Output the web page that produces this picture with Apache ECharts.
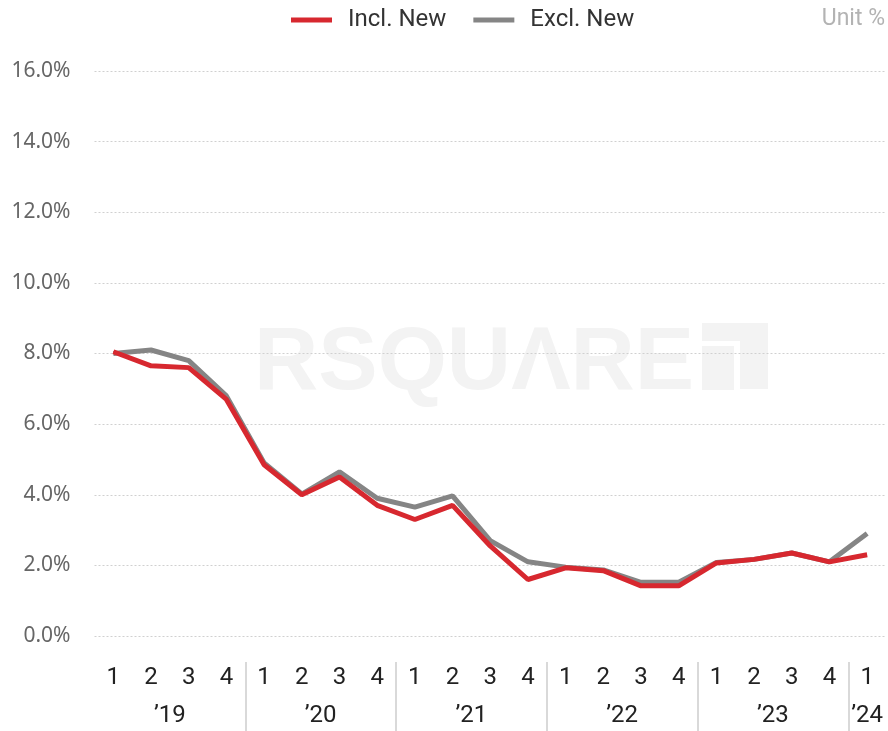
<!DOCTYPE html>
<html><head><meta charset="utf-8">
<script src="https://cdn.jsdelivr.net/npm/echarts@6/dist/echarts.min.js"></script>
<style>html,body{margin:0;padding:0;background:#fff}#c{width:888px;height:731px}</style>
</head><body><div id="c"></div>
<script>
const quarters = ['1','2','3','4','1','2','3','4','1','2','3','4','1','2','3','4','1','2','3','4','1'];
const yearLabels = ['\u201919','\u201920','\u201921','\u201922','\u201923','\u201924'];
const yearCenters = [1.5, 5.5, 9.5, 13.5, 17.5, 20];
const yearBreaks = [3.5, 7.5, 11.5, 15.5, 19.5];
const inclNew = [8.05,7.65,7.6,6.7,4.85,4.0,4.5,3.7,3.3,3.7,2.55,1.6,1.93,1.85,1.42,1.42,2.07,2.17,2.35,2.1,2.3];
const exclNew = [8.0,8.1,7.8,6.8,4.9,4.02,4.65,3.9,3.65,3.97,2.7,2.1,1.95,1.87,1.52,1.52,2.08,2.17,2.35,2.1,2.9];
const yTicks = {min:0, max:16, interval:2};

const wm = '#f3f3f3';
const chart = echarts.init(document.getElementById('c'));
chart.setOption({
  animation:false,
  textStyle:{fontFamily:'Roboto'},
  graphic:[
    {type:'text', left:254, top:320, z:0, silent:true,
     style:{text:'RSQU\u039BRE', font:'bold 89px "Liberation Sans", Arial', fill:wm}},
    {type:'group', left:702, top:323, z:0, silent:true, children:[
      {type:'rect', shape:{x:0,y:0,width:66,height:18}, style:{fill:wm}},
      {type:'rect', shape:{x:38,y:0,width:28,height:66}, style:{fill:wm}},
      {type:'rect', shape:{x:0,y:23,width:32,height:44}, style:{fill:wm}}
    ]},
    {type:'text', right:3, top:8, style:{text:'Unit %', font:'23px Roboto', fill:'#b3b3b3'}}
  ],
  legend:{
    top:3, left:286, itemWidth:41, itemHeight:5, itemGap:27, icon:'rect',
    textStyle:{fontSize:24, color:'#333', padding:[0,0,0,11], fontFamily:'Roboto'},
    data:['Incl. New','Excl. New']
  },
  grid:{left:94.5, right:2, top:71, bottom:95, containLabel:false},
  xAxis:[
    {type:'category', data:quarters, boundaryGap:true,
     axisLine:{show:false}, axisTick:{show:false},
     axisLabel:{fontSize:24, color:'#222', margin:30, interval:0}},
    {type:'value', min:-0.5, max:20.5, position:'bottom', offset:26,
     axisLine:{show:false}, splitLine:{show:false},
     axisTick:{show:true, customValues:yearBreaks, length:72, lineStyle:{color:'#d9d9d9', width:2}},
     axisLabel:{customValues:yearCenters, fontSize:24, color:'#222', margin:42,
       formatter:function(v){const i=yearCenters.indexOf(v);return i>=0?yearLabels[i]:'';}}}
  ],
  yAxis:{type:'value', min:yTicks.min, max:yTicks.max, interval:yTicks.interval,
    axisLine:{show:false}, axisTick:{show:false},
    axisLabel:{fontSize:21, color:'#666', margin:24, fontFamily:'"Noto Sans"',
      formatter:function(v){return v.toFixed(1)+'%';}},
    splitLine:{lineStyle:{color:'#d0d0d0', type:[2,2], width:1}}},
  series:[
    {name:'Incl. New', type:'line', data:inclNew, xAxisIndex:0, showSymbol:false, z:3,
     lineStyle:{width:5, color:'#d7282f'}, itemStyle:{color:'#d7282f'}},
    {name:'Excl. New', type:'line', data:exclNew, xAxisIndex:0, showSymbol:false, z:2,
     lineStyle:{width:5, color:'#858585'}, itemStyle:{color:'#858585'}}
  ]
});
</script></body></html>
